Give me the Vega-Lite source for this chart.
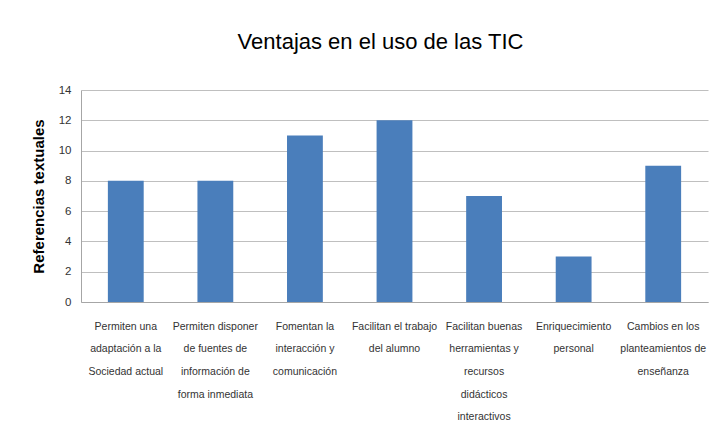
{
  "$schema": "https://vega.github.io/schema/vega-lite/v6.json",
  "autosize": {"type": "none"},
  "padding": {"left": 81, "top": 90, "right": 7, "bottom": 126},
  "width": 627,
  "height": 212,
  "background": "white",
  "title": {
    "text": "Ventajas en el uso de las TIC",
    "font": "Liberation Sans",
    "fontSize": 22,
    "fontWeight": "normal",
    "color": "#000000",
    "offset": 30,
    "dx": -14
  },
  "data": {
    "values": [
      {"categoria": "Permiten una|adaptación a la|Sociedad actual", "referencias": 8},
      {"categoria": "Permiten disponer|de fuentes de|información de|forma inmediata", "referencias": 8},
      {"categoria": "Fomentan la|interacción y|comunicación", "referencias": 11},
      {"categoria": "Facilitan el trabajo|del alumno", "referencias": 12},
      {"categoria": "Facilitan buenas|herramientas y|recursos|didácticos|interactivos", "referencias": 7},
      {"categoria": "Enriquecimiento|personal", "referencias": 3},
      {"categoria": "Cambios en los|planteamientos de|enseñanza", "referencias": 9}
    ]
  },
  "mark": {"type": "bar", "color": "#4a7ebb"},
  "encoding": {
    "x": {
      "field": "categoria",
      "type": "nominal",
      "sort": null,
      "scale": {"paddingInner": 0.6, "paddingOuter": 0.3},
      "axis": {
        "title": null,
        "labelAngle": 0,
        "labelExpr": "split(datum.value, '|')",
        "labelFont": "Liberation Sans",
        "labelFontSize": 10.5,
        "labelColor": "#333333",
        "labelLineHeight": 22.7,
        "labelPadding": 19,
        "labelBaseline": "top",
        "ticks": false,
        "domainColor": "#a6a6a6",
        "labelLimit": 200
      }
    },
    "y": {
      "field": "referencias",
      "type": "quantitative",
      "scale": {"domain": [0, 14]},
      "axis": {
        "title": "Referencias textuales",
        "titleFont": "Liberation Sans",
        "titleFontSize": 15,
        "titleFontWeight": "bold",
        "titleColor": "#000000",
        "titlePadding": 12,
        "values": [0, 2, 4, 6, 8, 10, 12, 14],
        "labelFont": "Liberation Sans",
        "labelFontSize": 11.5,
        "labelColor": "#333333",
        "labelPadding": 10,
        "ticks": false,
        "grid": true,
        "gridColor": "#bfbfbf",
        "gridWidth": 1,
        "domainColor": "#a6a6a6"
      }
    }
  },
  "config": {
    "view": {"stroke": null}
  }
}
